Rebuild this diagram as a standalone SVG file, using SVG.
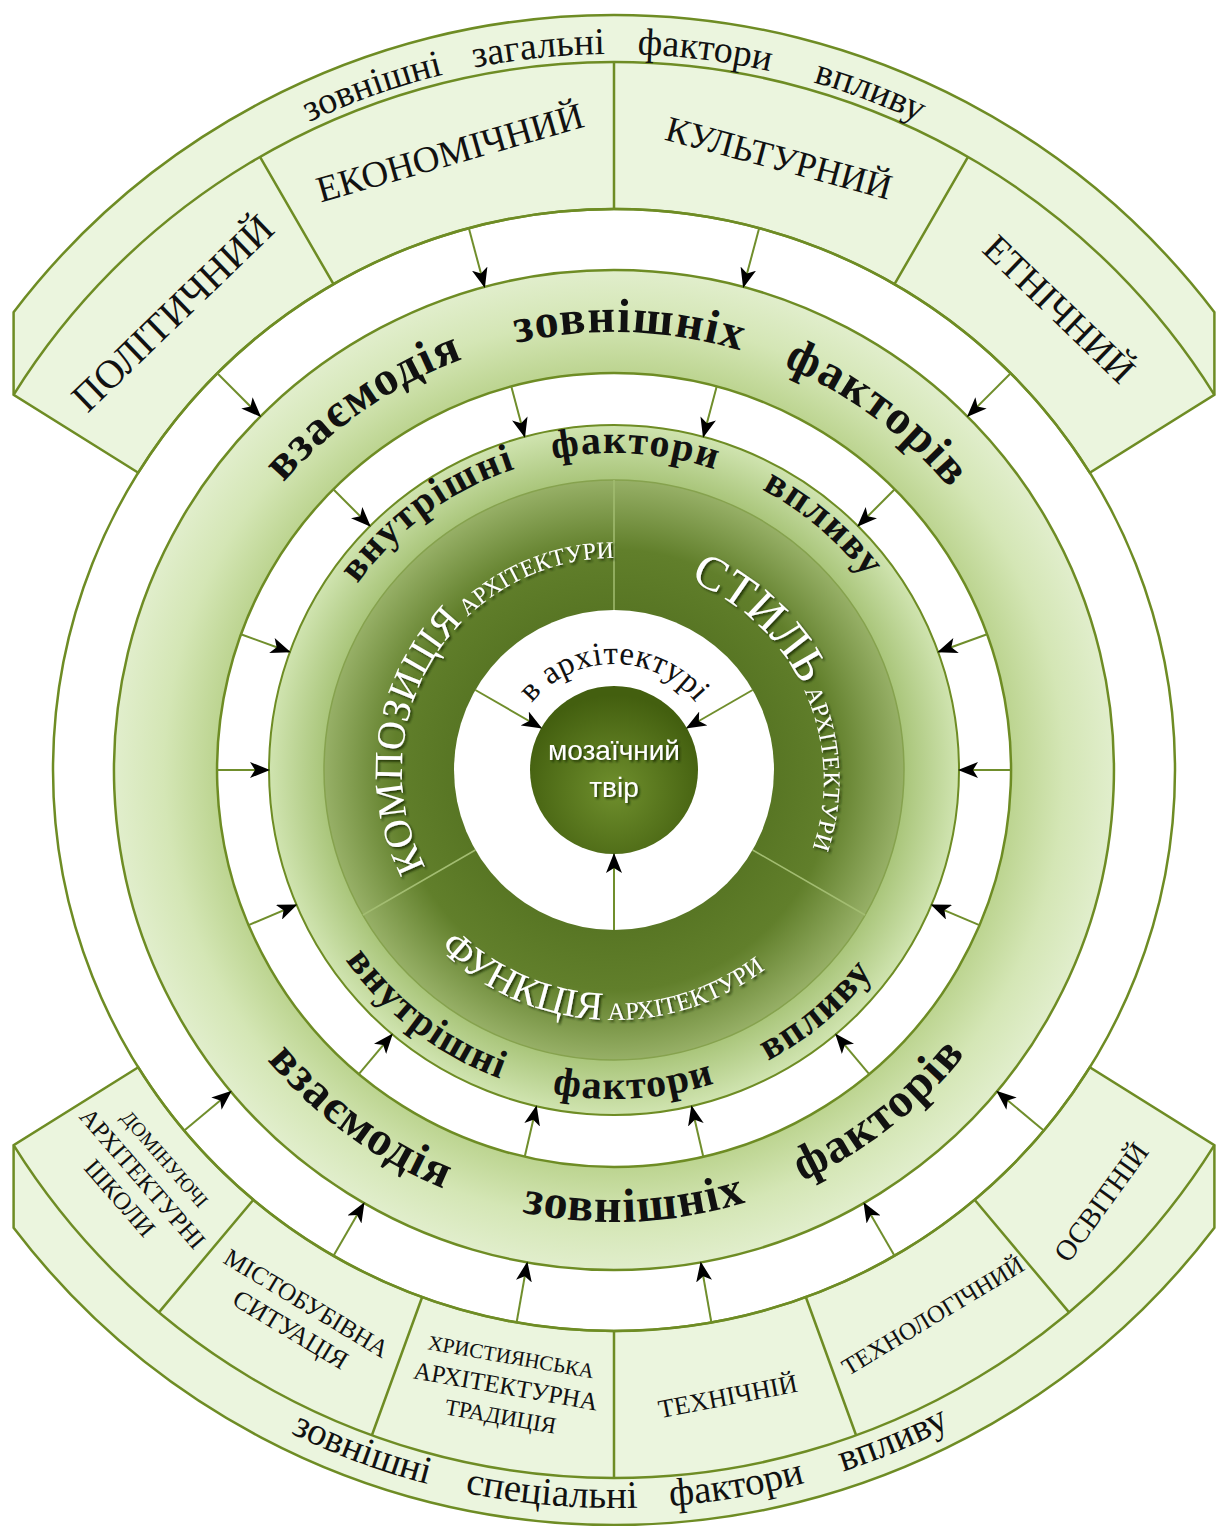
<svg xmlns="http://www.w3.org/2000/svg" width="1219" height="1526" viewBox="0 0 1219 1526">
<defs>
<style>
.ban{fill:#ebf5de;stroke:#6e8c24;stroke-width:2.5;stroke-linejoin:miter}
.ln{fill:none;stroke:#6e8c24;stroke-width:2.5}
.con{fill:none;stroke:#708e2c;stroke-width:2;marker-end:url(#ah)}
.serif{font-family:"Liberation Serif","Times New Roman",serif;fill:#111}
.bold{font-family:"Liberation Serif","Times New Roman",serif;font-weight:bold;fill:#111}
.wt{font-family:"Liberation Serif","Times New Roman",serif;fill:#fff;filter:url(#sh)}
.div{stroke:#a3bd72;stroke-width:1.5;fill:none}
</style>
<marker id="ah" viewBox="0 0 20 16" refX="19" refY="8" markerWidth="20" markerHeight="16" markerUnits="userSpaceOnUse" orient="auto">
<path d="M0,0 L20,8 L0,16 L5,8 Z" fill="#000"/>
</marker>
<filter id="sh" x="-20%" y="-20%" width="140%" height="140%">
<feDropShadow dx="2" dy="2" stdDeviation="1.2" flood-color="#1d2a05" flood-opacity="0.8"/>
</filter>
<radialGradient id="gBig" cx="614" cy="770" r="500" gradientUnits="userSpaceOnUse">
<stop offset="0.794" stop-color="#bcd490"/>
<stop offset="0.9" stop-color="#d4e6b5"/>
<stop offset="1" stop-color="#e1eecc"/>
</radialGradient>
<radialGradient id="gLight" cx="614" cy="770" r="345" gradientUnits="userSpaceOnUse">
<stop offset="0.84" stop-color="#a9c57a"/>
<stop offset="1" stop-color="#d0e4b0"/>
</radialGradient>
<radialGradient id="gDark" cx="614" cy="770" r="290" gradientUnits="userSpaceOnUse">
<stop offset="0.55" stop-color="#587624"/>
<stop offset="0.76" stop-color="#617f2b"/>
<stop offset="1" stop-color="#97b067"/>
</radialGradient>
<radialGradient id="gCore" cx="614" cy="790" r="95" gradientUnits="userSpaceOnUse">
<stop offset="0" stop-color="#6f8f2d"/>
<stop offset="1" stop-color="#435f0f"/>
</radialGradient>
<path id="pTop" d="M153.8,221.5 A716,716 0 0 1 1074.2,221.5"/>
<path id="pBot" d="M139.6,1335.3 A738,738 0 0 0 1088.4,1335.3"/>
<path id="pBigTop" d="M234.7,551 A438,438 0 0 1 993.3,551"/>
<path id="pBigBot" d="M222.6,996 A452,452 0 0 0 1005.4,996"/>
<path id="pLtTop" d="M339.5,611.5 A317,317 0 0 1 888.5,611.5"/>
<path id="pLtBot" d="M329.1,934.5 A329,329 0 0 0 898.9,934.5"/>
<path id="pKomp" d="M430.4,876 A212,212 0 0 1 632.5,558.8"/>
<path id="pStyl" d="M680.4,577.1 A215,215 0 0 1 800.2,877.5"/>
<path id="pFunk" d="M422.5,930.7 A250,250 0 0 0 805.5,930.7"/>
<path id="pArch" d="M522.2,717 A106,106 0 0 1 705.8,717"/>
</defs>
<rect x="0" y="0" width="1219" height="1526" fill="#fff"/>

<g id="banner-top">
<path class="ban" d="M138.3,472.7 L13.6,394.8 L13.6,312.2 A755,755 0 0 1 1214.4,312.2 L1214.4,394.8 L1089.7,472.7 A561,561 0 0 0 138.3,472.7 Z"/>
<path class="ln" d="M13.6,394.8 A708,708 0 0 1 1214.4,394.8"/>
<path class="ln" d="M333.5,284.2 L260,156.9 M614,209 L614,62 M894.5,284.2 L968,156.9"/>
<g class="serif" font-size="38">
<text><textPath href="#pTop" startOffset="256.2" text-anchor="middle">зовнішні</textPath></text>
<text><textPath href="#pTop" startOffset="424.9" text-anchor="middle">загальні</textPath></text>
<text><textPath href="#pTop" startOffset="590" text-anchor="middle">фактори</textPath></text>
<text><textPath href="#pTop" startOffset="758" text-anchor="middle">впливу</textPath></text>
</g>
<text class="serif" font-size="40" text-anchor="middle" transform="translate(172.9,313.2) rotate(-44)" y="13">ПОЛІТИЧНИЙ</text>
<text class="serif" font-size="37" text-anchor="middle" transform="translate(450,153) rotate(-16)" y="12">ЕКОНОМІЧНИЙ</text>
<text class="serif" font-size="36" text-anchor="middle" transform="translate(779,158) rotate(15)" y="12">КУЛЬТУРНИЙ</text>
<text class="serif" font-size="38" text-anchor="middle" transform="translate(1058.6,309.6) rotate(44)" y="12">ЕТНІЧНИЙ</text>
</g>

<g id="banner-bottom">
<path class="ban" d="M138.3,1067.3 L13.6,1145.2 L13.6,1227.8 A755,755 0 0 0 1214.4,1227.8 L1214.4,1145.2 L1089.7,1067.3 A561,561 0 0 1 138.3,1067.3 Z"/>
<path class="ln" d="M13.6,1145.2 A708,708 0 0 0 1214.4,1145.2"/>
<path class="ln" d="M974.6,1199.7 L1069.1,1312.4 M805.9,1297.2 L856.1,1435.3 M614,1331 L614,1478 M422.1,1297.2 L371.9,1435.3 M253.4,1199.7 L158.9,1312.4"/>
<g class="serif" font-size="39">
<text><textPath href="#pBot" startOffset="253.7" text-anchor="middle">зовнішні</textPath></text>
<text><textPath href="#pBot" startOffset="452" text-anchor="middle">спеціальні</textPath></text>
<text><textPath href="#pBot" startOffset="640" text-anchor="middle">фактори</textPath></text>
<text><textPath href="#pBot" startOffset="806" text-anchor="middle">впливу</textPath></text>
</g>
<text class="serif" text-anchor="middle" transform="translate(143,1178) rotate(49)"><tspan x="0" y="-22" font-size="20">ДОМІНУЮЧІ</tspan><tspan x="0" y="9" font-size="25">АРХІТЕКТУРНІ</tspan><tspan x="0" y="39" font-size="25">ШКОЛИ</tspan></text>
<text class="serif" text-anchor="middle" transform="translate(299,1315.6) rotate(31)"><tspan x="0" y="-6" font-size="25">МІСТОБУБІВНА</tspan><tspan x="0" y="25" font-size="26">СИТУАЦІЯ</tspan></text>
<text class="serif" text-anchor="middle" transform="translate(506,1385.5) rotate(10)"><tspan x="0" y="-22" font-size="21">ХРИСТИЯНСЬКА</tspan><tspan x="0" y="9" font-size="25">АРХІТЕКТУРНА</tspan><tspan x="0" y="39" font-size="23">ТРАДИЦІЯ</tspan></text>
<text class="serif" font-size="26" text-anchor="middle" transform="translate(728,1397) rotate(-11)" y="8">ТЕХНІЧНІЙ</text>
<text class="serif" font-size="24.5" text-anchor="middle" transform="translate(933,1316) rotate(-31)" y="8">ТЕХНОЛОГІЧНИЙ</text>
<text class="serif" font-size="29" text-anchor="middle" transform="translate(1101,1202) rotate(-54)" y="10">ОСВІТНІЙ</text>
</g>

<g id="outer-circle">
<circle cx="614" cy="770" r="561" fill="none" stroke="#6e8c24" stroke-width="2.5"/>
</g>

<g id="ring-interaction">
<path d="M614,270 A500,500 0 1 1 613.9,270 Z M614,373 A397,397 0 1 0 614.1,373 Z" fill="url(#gBig)" fill-rule="evenodd" stroke="#6e8c24" stroke-width="2.5"/>
<g class="bold" font-size="48" letter-spacing="1.5">
<text><textPath href="#pBigTop" startOffset="195" text-anchor="middle">взаємодія</textPath></text>
<text><textPath href="#pBigTop" startOffset="474" text-anchor="middle">зовнішніх</textPath></text>
<text><textPath href="#pBigTop" startOffset="737" text-anchor="middle">факторів</textPath></text>
<text><textPath href="#pBigBot" startOffset="189" text-anchor="middle">взаємодія</textPath></text>
<text><textPath href="#pBigBot" startOffset="494.6" text-anchor="middle">зовнішніх</textPath></text>
<text><textPath href="#pBigBot" startOffset="772" text-anchor="middle">факторів</textPath></text>
</g>
</g>

<g id="ring-internal">
<circle cx="614" cy="770" r="345" fill="url(#gLight)" stroke="#6e8c24" stroke-width="2"/>
<g class="bold" font-size="40" letter-spacing="1.5">
<text><textPath href="#pLtTop" startOffset="132.8" text-anchor="middle">внутрішні</textPath></text>
<text><textPath href="#pLtTop" startOffset="353" text-anchor="middle">фактори</textPath></text>
<text><textPath href="#pLtTop" startOffset="555" text-anchor="middle">впливу</textPath></text>
<text><textPath href="#pLtBot" startOffset="130" text-anchor="middle">внутрішні</textPath></text>
<text><textPath href="#pLtBot" startOffset="365" text-anchor="middle">фактори</textPath></text>
<text><textPath href="#pLtBot" startOffset="574.2" text-anchor="middle">впливу</textPath></text>
</g>
</g>

<g id="ring-core">
<circle cx="614" cy="770" r="290" fill="url(#gDark)" stroke="#86a24e" stroke-width="1.5"/>
<path class="div" d="M614,610 L614,480 M752.6,850 L865.1,915 M475.4,850 L362.9,915"/>
<text class="wt"><textPath href="#pKomp" startOffset="10"><tspan font-size="40">КОМПОЗИЦІЯ</tspan><tspan font-size="24"> АРХІТЕКТУРИ</tspan></textPath></text>
<text class="wt"><textPath href="#pStyl" startOffset="10"><tspan font-size="48">СТИЛЬ</tspan><tspan font-size="24"> АРХІТЕКТУРИ</tspan></textPath></text>
<text class="wt"><textPath href="#pFunk" startOffset="24"><tspan font-size="40">ФУНКЦІЯ</tspan><tspan font-size="25"> АРХІТЕКТУРИ</tspan></textPath></text>
</g>

<g id="inner-disk">
<circle cx="614" cy="770" r="160" fill="#fff"/>
<text class="serif" font-size="33" letter-spacing="0.5"><textPath href="#pArch" startOffset="50%" text-anchor="middle">в архітектурі</textPath></text>
</g>

<g id="center">
<circle cx="614" cy="770" r="84" fill="url(#gCore)"/>
<g font-family="'Liberation Sans',Arial,sans-serif" font-size="28" fill="#fff" text-anchor="middle" filter="url(#sh)">
<text x="614" y="760">мозаїчний</text>
<text x="614" y="797">твір</text>
</g>
</g>

<g id="connectors">
<path class="con" d="M217.3,373.3 L260.4,416.4"/>
<path class="con" d="M468.8,228.1 L484.6,287"/>
<path class="con" d="M759.2,228.1 L743.4,287"/>
<path class="con" d="M1010.7,373.3 L967.6,416.4"/>
<path class="con" d="M1043.7,1130.6 L997,1091.4"/>
<path class="con" d="M894.5,1255.8 L864,1203"/>
<path class="con" d="M711.4,1322.5 L700.8,1262.4"/>
<path class="con" d="M516.6,1322.5 L527.2,1262.4"/>
<path class="con" d="M333.5,1255.8 L364,1203"/>
<path class="con" d="M184.3,1130.6 L231,1091.4"/>
<path class="con" d="M511.3,386.5 L524.7,436.8"/>
<path class="con" d="M716.7,386.5 L703.3,436.8"/>
<path class="con" d="M333.3,489.3 L370.1,526.1"/>
<path class="con" d="M894.7,489.3 L857.9,526.1"/>
<path class="con" d="M240.9,634.2 L289.8,652"/>
<path class="con" d="M987.1,634.2 L938.2,652"/>
<path class="con" d="M217,770 L269,770"/>
<path class="con" d="M1011,770 L959,770"/>
<path class="con" d="M248.6,925.1 L296.4,904.8"/>
<path class="con" d="M979.4,925.1 L931.6,904.8"/>
<path class="con" d="M358.8,1074.1 L392.2,1034.3"/>
<path class="con" d="M869.2,1074.1 L835.8,1034.3"/>
<path class="con" d="M524.7,1156.8 L536.4,1106.2"/>
<path class="con" d="M703.3,1156.8 L691.6,1106.2"/>
<path class="con" d="M475.4,690 L541.3,728"/>
<path class="con" d="M752.6,690 L686.7,728"/>
<path class="con" d="M614,930 L614,854"/>
</g>
</svg>
